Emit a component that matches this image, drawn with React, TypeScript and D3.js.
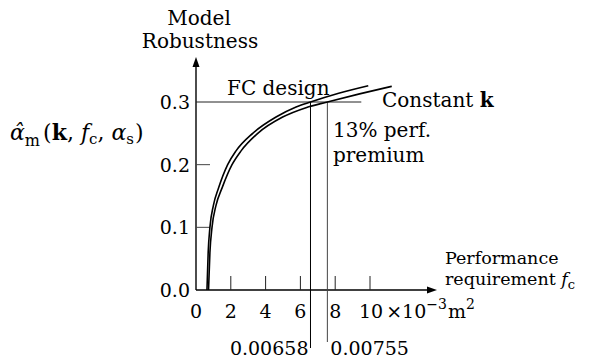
import React from 'react';
import * as d3 from 'd3';

// curves: [f_c (x10^-3 m^2), robustness]
const fcDesign: [number, number][] = [
  [0.63, 0], [0.7, 0.06], [0.8, 0.1], [1.0, 0.135], [1.3, 0.163], [1.82, 0.2],
  [2.3, 0.222], [3.26, 0.25], [4.6, 0.276], [5.75, 0.292], [6.58, 0.3], [8.2, 0.314], [9.9, 0.326],
];
const constantK: [number, number][] = [
  [0.72, 0], [0.8, 0.06], [0.92, 0.1], [1.15, 0.135], [1.5, 0.163], [2.07, 0.2],
  [2.59, 0.222], [3.55, 0.25], [4.98, 0.276], [6.32, 0.291], [7.55, 0.3], [9.4, 0.313], [11.25, 0.325],
];
const xTicks = [2, 4, 6, 8, 10];
const xTickLabels = [0, 2, 4, 6, 8];
const yTicks = [0.1, 0.2];
const yTickLabels = [0.0, 0.1, 0.2, 0.3];
const designLevel = 0.3;
const markers = [6.58, 7.55];
const markerLabels = ['0.00658', '0.00755'];

const font = 'DejaVu Serif, serif';

export default function App() {
  const x = d3.scaleLinear().domain([0, 10]).range([196, 370]);
  const y = d3.scaleLinear().domain([0, 0.3]).range([290, 102]);
  const xEnd = x(13.85);
  const yEnd = y(0.372);

  const line = d3.line<[number, number]>()
    .x(d => x(d[0]))
    .y(d => y(d[1]))
    .curve(d3.curveMonotoneX);

  return (
    <svg width={593} height={364} style={{ position: 'absolute', left: 0, top: 0 }} fontFamily={font}>
      <rect width={593} height={364} fill="#fff" />

      {/* axes */}
      <line x1={x(0)} y1={y(0)} x2={xEnd - 6} y2={y(0)} stroke="#000" strokeWidth={1.4} />
      <line x1={x(0)} y1={y(0)} x2={x(0)} y2={yEnd + 6} stroke="#000" strokeWidth={1.4} />
      <path d={`M${xEnd},${y(0)} L${xEnd - 10},${y(0) - 3.5} L${xEnd - 10},${y(0) + 3.5} Z`} fill="#000" />
      <path d={`M${x(0)},${yEnd} L${x(0) - 3.5},${yEnd + 10} L${x(0) + 3.5},${yEnd + 10} Z`} fill="#000" />

      {xTicks.map(t => (
        <line key={t} x1={x(t)} x2={x(t)} y1={y(0)} y2={y(0) - 14} stroke="#222" strokeWidth={1} />
      ))}
      {yTicks.map(t => (
        <line key={t} x1={x(0)} x2={x(0) + 14} y1={y(t)} y2={y(t)} stroke="#444" strokeWidth={1} />
      ))}

      {xTickLabels.map(t => (
        <text key={t} x={x(t)} y={318} fontSize={19} textAnchor="middle">{t}</text>
      ))}
      <text x={x(10) - 11} y={318} fontSize={19}>
        10<tspan dx={3}>×10</tspan><tspan dy={-9} fontSize={14}>−3</tspan><tspan dy={9} dx={1}>m</tspan><tspan dy={-9} fontSize={14}>2</tspan>
      </text>
      {yTickLabels.map(t => (
        <text key={t} x={190} y={y(t) + 7} fontSize={19} textAnchor="end">{t.toFixed(1)}</text>
      ))}

      {/* design level and markers */}
      <line x1={x(0)} x2={x(9.5)} y1={y(designLevel)} y2={y(designLevel)} stroke="#222" strokeWidth={1} />
      <line x1={x(markers[0])} x2={x(markers[0])} y1={y(designLevel)} y2={348} stroke="#000" strokeWidth={1} />
      <line x1={x(markers[1])} x2={x(markers[1])} y1={y(designLevel)} y2={342} stroke="#444" strokeWidth={1} />
      <text x={x(markers[0]) - 2} y={355} fontSize={19} textAnchor="end">{markerLabels[0]}</text>
      <text x={x(markers[1]) + 3} y={355} fontSize={19}>{markerLabels[1]}</text>

      {/* curves */}
      <path d={line(fcDesign) ?? ''} fill="none" stroke="#000" strokeWidth={1.6} />
      <path d={line(constantK) ?? ''} fill="none" stroke="#000" strokeWidth={1.6} />

      {/* labels */}
      <text x={199} y={25} fontSize={20} textAnchor="middle">Model</text>
      <text x={200} y={48} fontSize={20} textAnchor="middle">Robustness</text>
      <text x={227} y={95} fontSize={20}>FC design</text>
      <text x={382} y={107} fontSize={20}>Constant <tspan fontWeight="bold">k</tspan></text>
      <text x={333} y={137} fontSize={20}>13% perf.</text>
      <text x={333} y={162} fontSize={20}>premium</text>
      <text x={445} y={264} fontSize={17.5}>Performance</text>
      <text x={445} y={285} fontSize={17.5}>
        requirement <tspan fontStyle="italic">f</tspan><tspan dy={4} fontSize={13}>c</tspan>
      </text>
      <text x={10} y={140} fontSize={22}>
        <tspan fontStyle="italic">α̂</tspan><tspan dy={6} fontSize={16}>m</tspan>
        <tspan dy={-6} dx={3}>(</tspan><tspan fontWeight="bold">k</tspan>, <tspan fontStyle="italic">f</tspan>
        <tspan dy={4} fontSize={15}>c</tspan><tspan dy={-4}>, </tspan><tspan fontStyle="italic">α</tspan>
        <tspan dy={4} fontSize={15}>s</tspan><tspan dy={-4} dx={1}>)</tspan>
      </text>
    </svg>
  );
}
